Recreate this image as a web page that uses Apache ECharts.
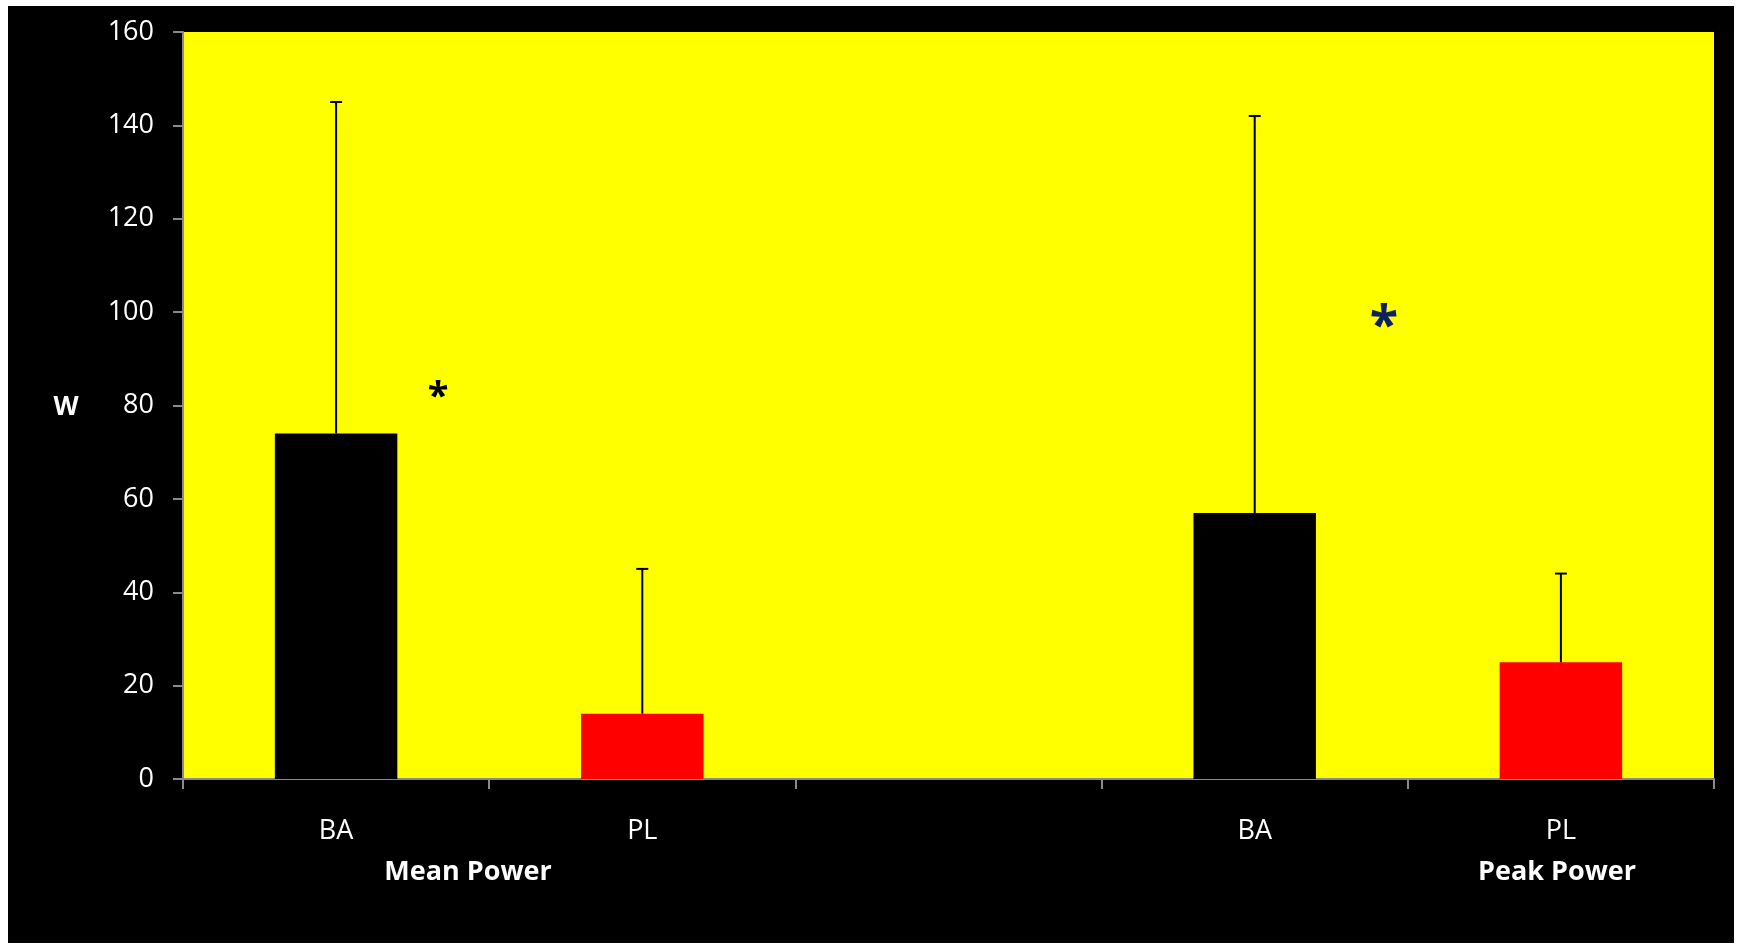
<!DOCTYPE html>
<html>
<head>
<meta charset="utf-8">
<title>Mean and Peak Power</title>
<script src="https://cdn.jsdelivr.net/npm/echarts@6/dist/echarts.min.js"></script>
<style>
  html, body { margin: 0; padding: 0; background: #ffffff; }
  #wrap { position: relative; width: 1743px; height: 950px; background: #ffffff; }
  #chart { position: absolute; left: 8px; top: 6px; width: 1726px; height: 937px; }
</style>
</head>
<body>
<div id="wrap"><div id="chart"></div></div>
<script>
// Bar categories (the third slot is an empty spacer between the two groups)
const categories = ['BA', 'PL', '', 'BA', 'PL'];
// Mean values (W)
const means = [74, 14, null, 57, 25];
// Upper error (SD) for each bar
const sds = [71, 31, null, 85, 19];
// Group labels under the category labels
const groupLabels = ['Mean Power', 'Peak Power'];
// Y axis ticks
const yMin = 0, yMax = 160, yStep = 20;

const barColors = { BA: '#000000', PL: '#ff0000' };
const FONT = '"Open Sans", "DejaVu Sans", sans-serif';

const chart = echarts.init(document.getElementById('chart'), null, { renderer: 'canvas' });

const barData = means.map((v, i) => v == null ? null : {
  value: v,
  itemStyle: { color: barColors[categories[i]] }
});

const errData = means.map((v, i) => v == null ? null : [i, v, v + sds[i]]);

const groupStyle = text => ({
  text: text, fill: '#ffffff', font: 'bold 27px ' + FONT,
  textAlign: 'center', textVerticalAlign: 'middle'
});

const option = {
  backgroundColor: '#000000',
  animation: false,
  grid: {
    left: 175, top: 26, right: 20, bottom: 164,
    show: true, backgroundColor: '#ffff00', borderWidth: 0
  },
  xAxis: {
    type: 'category',
    data: categories,
    boundaryGap: true,
    axisLine: { show: true, lineStyle: { color: '#8a8a8a', width: 2 } },
    axisTick: { show: true, interval: 0, length: 10, lineStyle: { color: '#8a8a8a', width: 2 } },
    axisLabel: { interval: 0, color: '#ffffff', fontSize: 27, fontFamily: FONT, margin: 39 }
  },
  yAxis: {
    type: 'value',
    min: yMin, max: yMax, interval: yStep,
    splitLine: { show: false },
    axisLine: { show: true, lineStyle: { color: '#8a8a8a', width: 2 } },
    axisTick: { show: true, length: 10, lineStyle: { color: '#8a8a8a', width: 2 } },
    axisLabel: { color: '#ffffff', fontSize: 27, fontFamily: FONT, margin: 29 }
  },
  series: [
    {
      type: 'bar',
      data: barData,
      barWidth: '40%',
      z: 2
    },
    {
      type: 'custom',
      z: 3,
      data: errData.filter(d => d),
      renderItem: function (params, api) {
        const x = api.value(0);
        const low = api.coord([x, api.value(1)]);
        const high = api.coord([x, api.value(2)]);
        const capHalf = 6;
        const style = { stroke: '#000000', lineWidth: 2 };
        return {
          type: 'group',
          children: [
            { type: 'line', shape: { x1: low[0], y1: low[1], x2: high[0], y2: high[1] }, style: style },
            { type: 'line', shape: { x1: high[0] - capHalf, y1: high[1], x2: high[0] + capHalf, y2: high[1] }, style: style }
          ]
        };
      }
    }
  ],
  graphic: [
    // Y axis unit
    {
      type: 'text', x: 58, y: 402,
      style: { text: 'W', fill: '#ffffff', font: 'bold 26px ' + FONT, textAlign: 'center', textVerticalAlign: 'middle' }
    },
    { type: 'text', x: 460, y: 866, style: groupStyle(groupLabels[0]) },
    { type: 'text', x: 1549, y: 866, style: groupStyle(groupLabels[1]) },
    // Significance markers
    {
      type: 'text', x: 430, y: 392,
      style: { text: '*', fill: '#000000', font: 'bold 38px ' + FONT, textAlign: 'center', textVerticalAlign: 'middle' }
    },
    {
      type: 'text', x: 1376, y: 322,
      style: { text: '*', fill: '#0d2160', font: 'bold 52px ' + FONT, textAlign: 'center', textVerticalAlign: 'middle' }
    }
  ]
};

chart.setOption(option);
</script>
</body>
</html>
